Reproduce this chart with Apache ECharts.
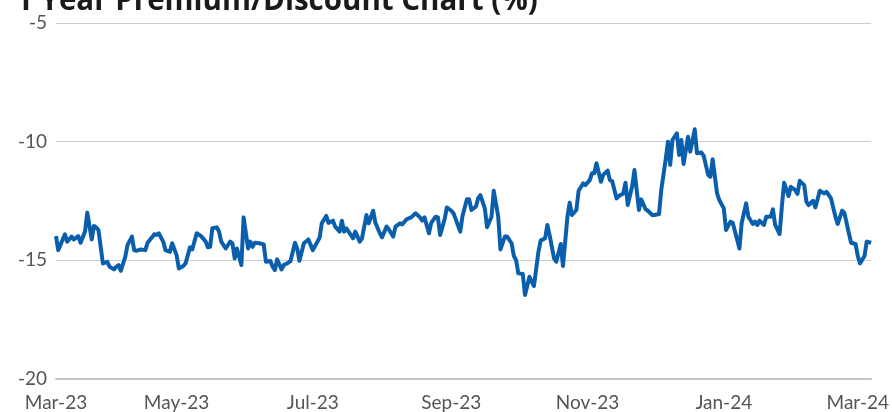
<!DOCTYPE html>
<html>
<head>
<meta charset="utf-8">
<script src="https://cdn.jsdelivr.net/npm/echarts@6/dist/echarts.min.js"></script>
<style>
html,body{margin:0;padding:0;background:#fff;}
#chart{width:892px;height:412px;}
</style>
</head>
<body>
<div id="chart"></div>
<script>
// Title
var titleText = '1 Year Premium/Discount Chart (%)';

// Start date of the series (day 0)
var startDate = [2023, 2, 8];
var totalDays = 365;

// Day offsets from the start date for each observation
var days = [
  0,1,3,4,5,7,8,10,11,13,14,16,17,18,19,21,23,24,26,27,28,29,31,32,34,35,36,38,40,41,43,44,45,46,48,49,51,52,54,55,57,58,60,
  61,63,65,67,68,69,70,72,73,74,76,78,79,80,81,83,84,86,87,88,89,91,93,94,96,97,98,99,101,102,104,105,107,108,109,111,113,115,
  118,119,121,122,124,125,127,128,129,130,132,133,134,136,137,139,140,142,143,145,146,148,149,151,152,154,155,157,159,161,163,164,165,167,168,170,171,172,174,175,177,178,181,
  182,184,185,186,188,189,190,192,193,195,196,198,199,201,202,204,205,206,207,209,210,212,213,214,216,217,219,220,221,223,224,226,227,229,230,231,233,234,236,237,239,240,
  241,242,244,245,247,248,249,251,252,254,255,256,258,259,261,262,264,265,267,268,270,271,273,274,275,276,278,279,280,281,283,284,286,287,289,290,292,293,294,296,297,299,300,
  302,303,306,307,309,310,312,313,314,315,317,318,320,321,322,324,325,326,328,329,331,332,333,335,336,337,339,340,342,344,345,347,349,350,352,353,355,356,358,359,360,362,363,365
];

// Premium/discount values (%)
var values = [
  -13.98,-14.57,-14.12,-13.90,-14.21,-14.00,-14.12,-13.98,-14.26,-13.79,-12.99,-14.12,-13.55,-13.61,-13.72,-15.13,-15.06,-15.27,-15.38,-15.27,-15.20,-15.44,-14.85,-14.36,-14.00,-14.57,-14.60,-14.54,-14.57,-14.26,-14.03,-13.90,-13.93,-13.86,-14.21,-14.57,-14.64,-14.28,-14.78,-15.34,-15.24,-15.13,-14.45,
  -14.54,-13.86,-13.98,-14.21,-14.45,-14.43,-13.65,-13.61,-13.79,-14.21,-14.50,-14.21,-14.28,-14.92,-14.50,-15.20,-13.19,-14.50,-14.21,-14.43,-14.26,-14.28,-14.33,-15.06,-15.03,-15.27,-15.41,-14.96,-15.38,-15.20,-15.10,-15.03,-14.26,-14.50,-15.02,-14.28,-14.12,-14.57,
  -14.05,-13.44,-13.13,-13.42,-13.33,-13.58,-13.79,-13.33,-13.79,-13.65,-13.93,-14.07,-13.79,-14.21,-14.07,-13.09,-13.44,-12.91,-13.42,-13.86,-14.03,-13.58,-13.69,-14.00,-13.58,-13.44,-13.49,-13.27,-13.19,-13.02,-13.19,-13.33,-13.19,-13.86,-13.42,-13.16,-13.19,-13.93,-13.27,-12.77,-12.91,-13.02,-13.79,
  -13.13,-12.43,-12.43,-12.88,-12.74,-12.39,-12.25,-12.81,-13.61,-13.16,-12.07,-13.16,-14.54,-14.00,-14.00,-14.28,-14.82,-14.99,-15.55,-15.58,-16.46,-15.69,-15.90,-16.08,-14.64,-14.17,-14.07,-13.51,-13.93,-14.92,-15.06,-14.31,-15.24,-13.16,-12.57,-13.09,-12.88,-12.07,-11.76,-11.83,-11.62,-11.33,
  -11.33,-10.91,-11.69,-11.40,-11.22,-11.62,-11.66,-12.39,-12.29,-12.18,-11.73,-12.67,-11.87,-11.19,-12.88,-12.43,-12.85,-12.91,-13.09,-13.09,-13.05,-12.04,-10.74,-10.00,-10.98,-9.93,-9.65,-10.56,-9.93,-10.94,-9.79,-10.42,-9.48,-10.49,-10.46,-10.60,-11.40,-11.48,-10.74,-12.18,-12.46,-12.81,-13.72,
  -13.37,-13.42,-14.50,-13.44,-12.60,-13.16,-13.47,-13.37,-13.51,-13.33,-13.51,-13.16,-13.16,-12.85,-13.51,-13.89,-12.74,-11.73,-12.29,-11.90,-12.04,-12.20,-11.65,-11.83,-12.53,-12.67,-12.49,-12.77,-12.07,-12.18,-12.11,-12.39,-13.16,-13.47,-12.91,-13.00,-13.86,-14.26,-14.31,-14.82,-15.13,-14.82,-14.21,-14.26
];

// X-axis label dates (year, month index, day) and their texts
var labelDates = [[2023,2,8],[2023,4,1],[2023,6,1],[2023,8,1],[2023,10,1],[2024,0,1],[2024,2,1]];
var labelTexts = ['Mar-23','May-23','Jul-23','Sep-23','Nov-23','Jan-24','Mar-24'];

// Y-axis range
var yMin = -20, yMax = -5, yStep = 5;

var DAY = 86400000;
var t0 = Date.UTC(startDate[0], startDate[1], startDate[2]);
var labelDays = labelDates.map(function (a) { return Math.round((Date.UTC(a[0], a[1], a[2]) - t0) / DAY); });
var seriesData = days.map(function (d, i) { return [d, values[i]]; });

var chart = echarts.init(document.getElementById('chart'), null, {renderer: 'canvas'});
var font = 'Lato, "Open Sans", sans-serif';
chart.setOption({
  animation: false,
  title: {
    text: titleText,
    left: 11,
    top: -18,
    textStyle: {fontFamily: '"Open Sans", Lato, sans-serif', fontWeight: 'bold', fontSize: 29.5, color: '#1a1a1a'}
  },
  grid: {left: 56, right: 19, top: 23, bottom: 33, containLabel: false},
  xAxis: {
    type: 'value',
    min: 0,
    max: totalDays,
    axisLine: {show: true, onZero: false, lineStyle: {color: '#c4c4c4', width: 2}},
    axisTick: {show: false},
    splitLine: {show: false},
    axisLabel: {
      customValues: labelDays,
      margin: 14,
      fontFamily: font,
      fontSize: 19,
      color: '#555',
      showMinLabel: true,
      showMaxLabel: true,
      formatter: function (v) {
        var k = labelDays.indexOf(Math.round(v));
        return k >= 0 ? labelTexts[k] : '';
      }
    }
  },
  yAxis: {
    type: 'value',
    min: yMin,
    max: yMax,
    interval: yStep,
    axisLine: {show: false},
    axisTick: {show: false},
    splitLine: {show: true, lineStyle: {color: '#cccccc', width: 1}},
    axisLabel: {margin: 9, fontFamily: font, fontSize: 19, color: '#555'}
  },
  series: [{
    type: 'line',
    data: seriesData,
    showSymbol: false,
    symbol: 'none',
    lineStyle: {color: '#0a5fad', width: 4, join: 'round'},
    itemStyle: {color: '#0a5fad'}
  }]
});
</script>
</body>
</html>
